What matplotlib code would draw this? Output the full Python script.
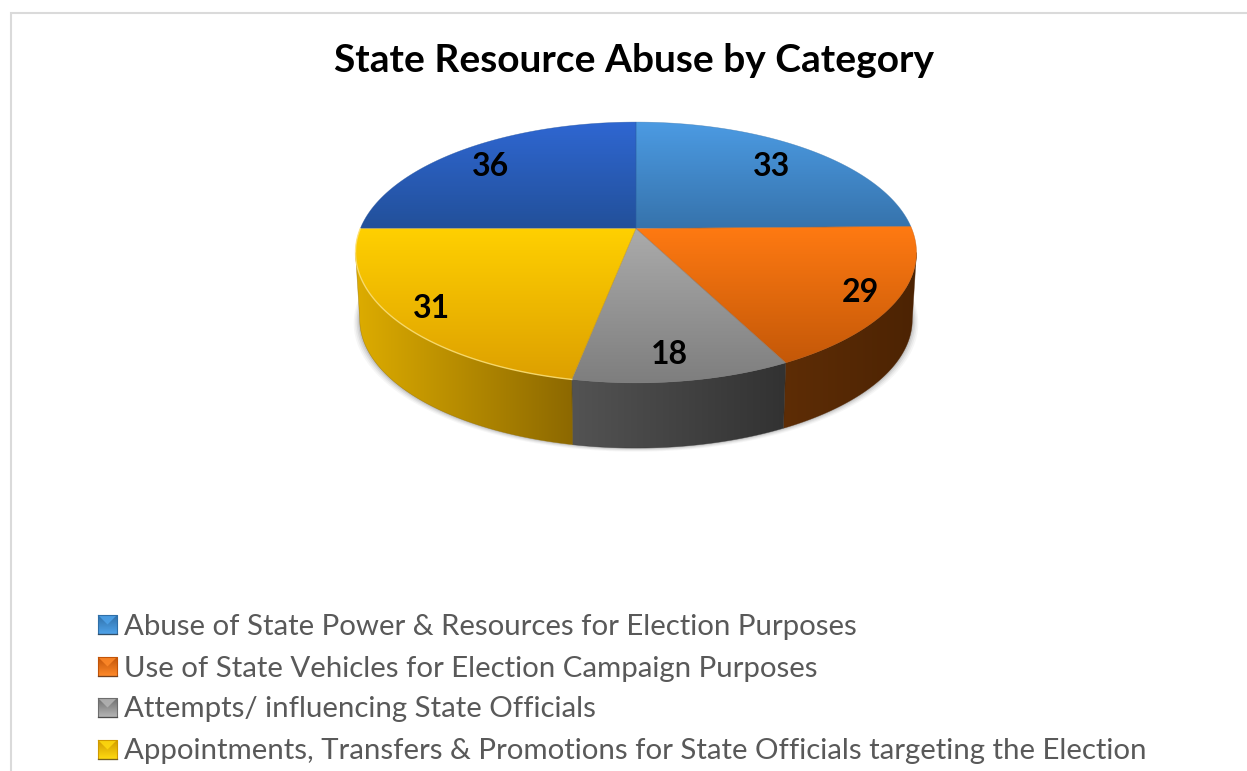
import numpy as np
import matplotlib
matplotlib.use("Agg")
import matplotlib.pyplot as plt
from matplotlib.colors import LinearSegmentedColormap
from matplotlib.patches import Polygon

title = "State Resource Abuse by Category"
categories = ["Abuse of State Power & Resources for Election Purposes",
              "Use of State Vehicles for Election Campaign Purposes",
              "Attempts/ influencing State Officials",
              "Appointments, Transfers & Promotions for State Officials targeting the Election"]
# Printed data labels, clockwise from 12 o'clock
value_labels = [33, 29, 18, 31, 36]
# Sweep of each slice as actually drawn in the picture, in degrees
# (the reference's 3-D slices are not strictly proportional to their labels)
drawn_sweeps = [89, 64, 38, 79, 90]
top_colors = [("#4C9BE3", "#3673AC"), ("#FF7A12", "#C45808"), ("#ABABAB", "#7E7E7E"),
              ("#FFD000", "#DDA000"), ("#2F67D2", "#22509A")]
wall_colors = [("#2A5680", "#2A5680"), ("#5E2D06", "#4C2303"), ("#535353", "#323232"),
               ("#DDAC00", "#8C6800"), ("#1A3C75", "#1A3C75")]
label_pos = [(772, 164), (860, 290), (669, 351), (431, 305), (490, 164)]
legend_colors = [("#4FA3EA", "#2F6FA8"), ("#FF8A2A", "#C25408"), ("#B5B5B5", "#6E6E6E"), ("#FFDA10", "#D09A00")]
legend_y = [624.5, 666.5, 707.5, 749.5]

W, H = 1247, 771
fig = plt.figure(figsize=(W / 100, H / 100), dpi=100)
ax = fig.add_axes([0, 0, 1, 1])
ax.set_xlim(0, W)
ax.set_ylim(H, 0)
ax.axis("off")

CX, CY, A, B, K = 636, 228.5, 275.7, 126.0, 0.184
# the silhouette of the perspective ellipse is widest where cos(theta) = -K
WIDEST = np.degrees(np.arccos(-K))


def proj(deg, r=1.0, bottom=False):
    t = np.radians(deg)
    u, v = np.sin(t) * r, np.cos(t) * r
    w = 1 + K * v
    s = 0.985 if bottom else 1.0
    dy = 67.5 if bottom else 0
    return CX + s * A * u / w, CY + dy - s * B * v / w


def paint(pts, c0, c1, horizontal, zorder):
    pts = np.asarray(pts)
    x0, x1, y0, y1 = pts[:, 0].min(), pts[:, 0].max(), pts[:, 1].min(), pts[:, 1].max()
    cmap = LinearSegmentedColormap.from_list("g", [c0, c1])
    grad = np.linspace(0, 1, 256)
    img = grad[None, :] if horizontal else grad[:, None]
    im = ax.imshow(img, cmap=cmap, extent=(x0, x1, y1, y0), aspect="auto", zorder=zorder,
                   interpolation="bilinear")
    p = Polygon(pts, closed=True, transform=ax.transData, fc="none", ec="none")
    ax.add_patch(p)
    im.set_clip_path(p)
    ax.fill(pts[:, 0], pts[:, 1], fc="none", ec=c1, lw=0.4, zorder=zorder + 0.1, alpha=0.6)


edges = np.concatenate([[0], np.cumsum(drawn_sweeps)])

# soft shadow under the disc
th = np.linspace(WIDEST - 20, 360 - WIDEST + 20, 200)
for grow, alpha in [(6, 0.05), (4.5, 0.07), (3, 0.10), (1.5, 0.14)]:
    sx, sy = proj(th, bottom=True)
    ax.fill(CX + (sx - CX) * (1 + grow / 275), sy + grow * 0.6, color="#555555", alpha=alpha, lw=0, zorder=1)

# side walls (front of the silhouette only)
for i in range(len(drawn_sweeps)):
    a0, a1 = max(edges[i], WIDEST), min(edges[i + 1], 360 - WIDEST)
    if a1 <= a0:
        continue
    t = np.linspace(a0, a1, 120)
    xt, yt = proj(t)
    xb, yb = proj(t, bottom=True)
    pts = np.column_stack([np.r_[xt, xb[::-1]], np.r_[yt, yb[::-1]]])
    c0, c1 = wall_colors[i]
    paint(pts, c0, c1, True, 2 + i * 0.01)

# top faces
for i in range(len(drawn_sweeps)):
    t = np.linspace(edges[i], edges[i + 1], 160)
    xt, yt = proj(t)
    pts = np.column_stack([np.r_[CX, xt], np.r_[CY, yt]])
    c0, c1 = top_colors[i]
    paint(pts, c0, c1, False, 3 + i * 0.01)

# highlight on the lit front rim
t = np.linspace(edges[3], edges[4], 80)
ax.plot(*proj(t), color="#FFE680", lw=1, alpha=0.8, zorder=4)

for (x, y), v in zip(label_pos, value_labels):
    ax.text(x, y + 3, str(v), ha="center", va="center", fontsize=23, fontweight="bold",
            family="Lato", color="black", zorder=5)

ax.text(633.5, 61, title, ha="center", va="center", fontsize=28, fontweight="bold",
        family="Lato", color="black")

for yc, label, (c0, c1) in zip(legend_y, categories, legend_colors):
    x0, x1, y0, y1 = 98, 117, yc - 9.5, yc + 9.5
    paint([(x0, y0), (x1, y0), (x1, y1), (x0, y1)], c1, c0, False, 3)
    ax.fill([x0, x1, (x0 + x1) / 2], [y0, y0, (y0 + y1) / 2], color=c0, alpha=0.85, lw=0, zorder=4)
    ax.plot([x0, x1, x1, x0, x0], [y0, y0, y1, y1, y0], color=c1, lw=0.8, zorder=4)
    ax.plot([x0, x1], [y1, y1], color="#333333", lw=1, alpha=0.55, zorder=4)
    ax.text(124, yc + 2, label, ha="left", va="center", fontsize=21.2, family="Lato", color="#595959")

ax.plot([10.5, 10.5, W], [H, 12.5, 12.5], color="#DADADA", lw=1.5, solid_joinstyle="miter", zorder=1)

fig.savefig("out.png", dpi=100)
